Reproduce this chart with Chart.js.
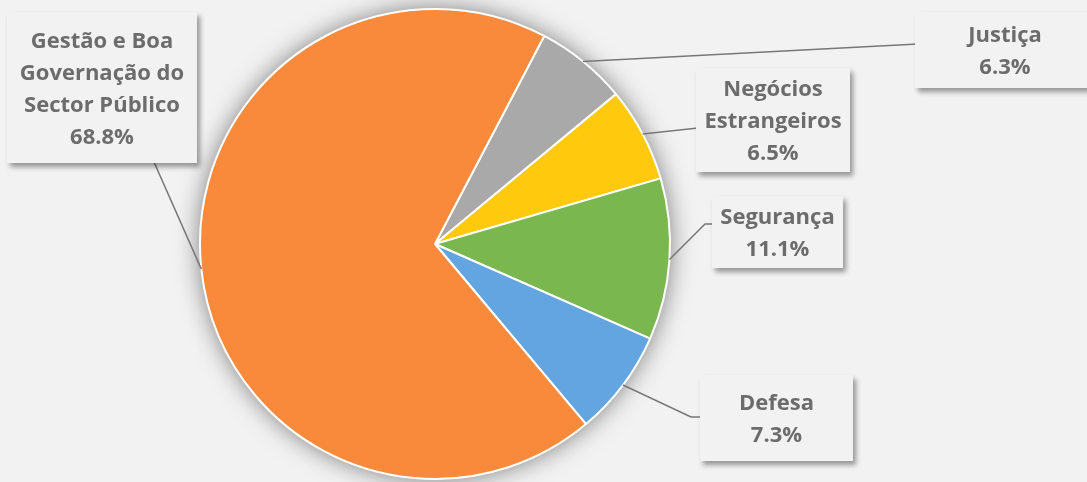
<!DOCTYPE html>
<html>
<head>
<meta charset="utf-8">
<script src="https://cdn.jsdelivr.net/npm/chart.js@4"></script>
<style>
  html, body { margin: 0; padding: 0; background: #f2f2f2; }
  #wrap { width: 1087px; height: 482px; position: relative; }
</style>
</head>
<body>
<div id="wrap"><canvas id="pieChart"></canvas></div>
<script>
// data, in drawing order (clockwise from the gray slice)
const categories = ['Justiça', 'Negócios Estrangeiros', 'Segurança', 'Defesa', 'Gestão e Boa Governação do Sector Público'];
const shares = [6.3, 6.5, 11.1, 7.3, 68.8];
const sliceColors = ['#a9a9a9', '#ffc90e', '#7ab84f', '#62a5e1', '#fa8a3b'];

// how each label is broken into lines
const labelLines = [
    ['Justiça'],
    ['Negócios', 'Estrangeiros'],
    ['Segurança'],
    ['Defesa'],
    ['Gestão e Boa', 'Governação do', 'Sector Público']
];

// label boxes and leader elbows (layout only)
const boxes = [
    {x: 915, y: 12, w: 180, h: 76, path: [[918, 44]]},
    {x: 696, y: 68, w: 154, h: 104, path: [[698, 128]]},
    {x: 712, y: 196, w: 131, h: 72, path: [[705, 224], [715, 224]]},
    {x: 700, y: 375, w: 153, h: 86, path: [[691, 417], [703, 417]]},
    {x: 7, y: 12, w: 190, h: 151, path: [[150, 153], [137, 153]]}
];

const pieShadow = {
    id: 'pieShadow',
    beforeDatasetsDraw(chart) {
        const arc = chart.getDatasetMeta(0).data[0];
        const ctx = chart.ctx;
        ctx.save();
        ctx.shadowColor = 'rgba(0,0,0,0.5)';
        ctx.shadowBlur = 24;
        ctx.fillStyle = '#ffffff';
        ctx.beginPath();
        ctx.arc(arc.x, arc.y, arc.outerRadius, 0, Math.PI * 2);
        ctx.fill();
        ctx.restore();
    }
};

const calloutLabels = {
    id: 'calloutLabels',
    afterDatasetsDraw(chart) {
        const ctx = chart.ctx;
        const arcs = chart.getDatasetMeta(0).data;
        arcs.forEach((arc, i) => {
            const b = boxes[i];
            const mid = (arc.startAngle + arc.endAngle) / 2;
            const ax = arc.x + Math.cos(mid) * arc.outerRadius;
            const ay = arc.y + Math.sin(mid) * arc.outerRadius;

            // leader line
            ctx.save();
            ctx.strokeStyle = '#777777';
            ctx.lineWidth = 1.5;
            ctx.beginPath();
            ctx.moveTo(ax, ay);
            b.path.forEach(p => ctx.lineTo(p[0], p[1]));
            ctx.stroke();
            ctx.restore();

            // box with shadow
            ctx.save();
            ctx.shadowColor = 'rgba(0,0,0,0.38)';
            ctx.shadowBlur = 5;
            ctx.shadowOffsetX = 3;
            ctx.shadowOffsetY = 4;
            ctx.fillStyle = '#f2f2f2';
            ctx.fillRect(b.x, b.y, b.w, b.h);
            ctx.restore();

            // text
            const lines = labelLines[i].concat([shares[i].toFixed(1) + '%']);
            const lh = 32;
            const cx = b.x + b.w / 2;
            const cy = b.y + b.h / 2 + 2;
            ctx.save();
            ctx.fillStyle = '#6c6c6c';
            ctx.font = 'bold 22px "Open Sans"';
            ctx.textAlign = 'center';
            ctx.textBaseline = 'middle';
            lines.forEach((t, k) => {
                ctx.fillText(t, cx, cy + (k - (lines.length - 1) / 2) * lh);
            });
            ctx.restore();
        });
    }
};

new Chart(document.getElementById('pieChart'), {
    type: 'pie',
    data: {
        labels: categories,
        datasets: [{
            data: shares,
            backgroundColor: sliceColors,
            borderColor: '#ffffff',
            borderWidth: 2,
            hoverOffset: 0
        }]
    },
    options: {
        responsive: true,
        maintainAspectRatio: false,
        animation: false,
        events: [],
        rotation: 27.7,
        layout: { padding: {left: 199, right: 416, top: 8, bottom: 2} },
        plugins: {
            legend: { display: false },
            tooltip: { enabled: false }
        }
    },
    plugins: [pieShadow, calloutLabels]
});
</script>
</body>
</html>
